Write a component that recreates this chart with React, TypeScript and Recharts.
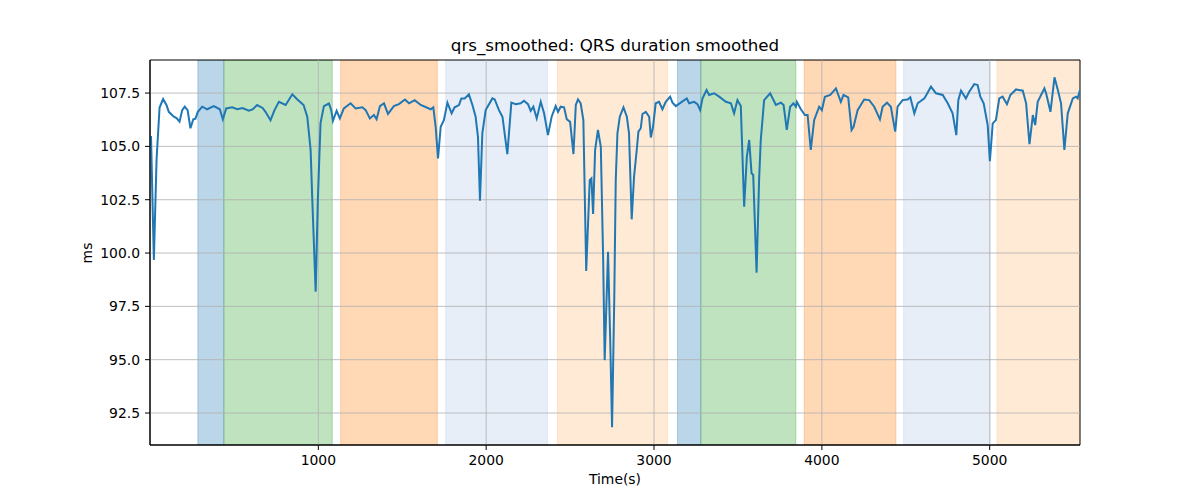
import React from "react";
import {
  ComposedChart,
  Line,
  XAxis,
  YAxis,
  ReferenceArea,
  ReferenceLine,
} from "recharts";

// time stamps (s) and smoothed QRS duration (ms)
const times = [
  3, 20, 36, 54, 75, 95, 109, 139, 155, 173, 189, 204, 221, 238, 255, 268, 282,
  308, 338, 377, 413, 431, 451, 487, 517, 548, 586, 608, 635, 668, 686, 715, 739,
  765, 805, 845, 875, 912, 934, 954, 964, 975, 984, 997, 1013, 1033, 1063, 1077,
  1087, 1109, 1128, 1152, 1192, 1222, 1262, 1282, 1307, 1331, 1347, 1367, 1391,
  1415, 1450, 1480, 1516, 1540, 1574, 1610, 1669, 1685, 1699, 1713, 1729, 1748,
  1769, 1794, 1812, 1838, 1852, 1872, 1897, 1918, 1937, 1951, 1963, 1977, 1997,
  2037, 2051, 2076, 2097, 2126, 2150, 2176, 2206, 2225, 2249, 2265, 2281, 2301,
  2325, 2345, 2368, 2390, 2414, 2428, 2444, 2464, 2480, 2500, 2520, 2534, 2547,
  2563, 2579, 2596, 2617, 2627, 2637, 2649, 2666, 2683, 2697, 2706, 2726, 2739,
  2750, 2763, 2772, 2782, 2796, 2818, 2838, 2851, 2867, 2881, 2897, 2907, 2921,
  2931, 2951, 2971, 2981, 2994, 3010, 3030, 3050, 3070, 3096, 3110, 3130, 3159,
  3195, 3209, 3239, 3259, 3275, 3289, 3313, 3328, 3358, 3388, 3428, 3458, 3477,
  3497, 3517, 3537, 3553, 3567, 3581, 3591, 3611, 3626, 3636, 3656, 3692, 3726,
  3756, 3772, 3791, 3811, 3831, 3845, 3851, 3875, 3899, 3915, 3934, 3954, 3984,
  4000, 4018, 4050, 4084, 4113, 4129, 4157, 4177, 4189, 4213, 4252, 4282, 4312,
  4346, 4362, 4388, 4411, 4437, 4451, 4481, 4511, 4527, 4551, 4571, 4611, 4650,
  4680, 4720, 4750, 4779, 4801, 4813, 4829, 4858, 4878, 4908, 4928, 4944, 4964,
  4988, 5001, 5018, 5037, 5057, 5077, 5103, 5123, 5157, 5197, 5217, 5237, 5257,
  5271, 5286, 5326, 5336, 5362, 5386, 5406, 5425, 5445, 5465, 5495, 5514, 5524,
  5538,
];

const qrs = [
  105.48, 99.67, 104.36, 106.82, 107.22, 106.94, 106.62, 106.39, 106.33, 106.16,
  106.7, 106.86, 106.7, 105.85, 106.27, 106.3, 106.62, 106.86, 106.74, 106.89,
  106.74, 106.27, 106.78, 106.83, 106.74, 106.8, 106.67, 106.73, 106.94, 106.8,
  106.61, 106.23, 106.7, 107.09, 106.94, 107.44, 107.2, 106.94, 106.39, 104.83,
  102.48, 100.14, 98.19, 102.48, 106.09, 106.89, 107.01, 106.7, 106.2, 106.67,
  106.31, 106.78, 107.02, 106.78, 106.83, 106.7, 106.31, 106.47, 106.27, 106.89,
  107.02, 106.52, 106.89, 106.98, 107.2, 107.02, 107.17, 106.94, 106.74, 106.83,
  105.92, 104.44, 105.92, 106.23, 107.05, 106.55, 106.83, 106.94, 107.25, 107.25,
  107.44, 106.94, 106.39, 105.45, 102.45, 105.61, 106.7, 107.25, 107.2, 106.7,
  106.39, 104.64, 107.05, 106.98, 107.02, 107.14, 106.98, 106.67, 106.86, 106.31,
  107.09, 106.55, 105.53, 106.39, 106.89, 106.62, 106.86, 106.83, 106.27, 106.15,
  104.64, 106.94, 107.2, 107.02, 106.23, 99.16, 103.42, 103.5, 101.83, 104.83,
  105.77, 104.98, 99.67, 94.98, 100.06, 95.92, 91.83, 97.8, 103.42, 105.61,
  106.39, 106.83, 106.39, 105.61, 101.58, 103.58, 104.83, 105.69, 105.85, 106.52,
  106.62, 106.39, 105.42, 105.92, 107.02, 107.09, 106.74, 107.09, 107.33, 107.05,
  106.89, 107.05, 107.25, 107.02, 107.09, 106.98, 106.7, 107.25, 107.64, 107.41,
  107.49, 107.33, 107.09, 107.02, 106.55, 107.17, 106.89, 102.17, 104.51, 105.3,
  103.74, 103.66, 99.08, 103.42, 105.3, 107.17, 107.49, 106.94, 107.05, 106.94,
  105.77, 106.86, 107.02, 106.86, 107.09, 106.74, 106.47, 106.47, 104.83, 106.23,
  106.86, 106.7, 107.33, 107.41, 107.72, 107.09, 107.41, 107.3, 105.77, 105.92,
  106.7, 107.2, 107.17, 106.86, 106.27, 106.86, 107.05, 106.86, 105.69, 106.86,
  107.17, 107.2, 107.3, 106.55, 107.02, 107.25, 107.8, 107.49, 107.41, 107.02,
  106.55, 105.53, 107.17, 107.61, 107.25, 107.56, 107.92, 107.88, 107.33, 107.02,
  106.0, 104.31, 106.08, 106.23, 107.25, 107.33, 106.98, 107.41, 107.67, 107.61,
  107.02, 105.1, 106.47, 106.0, 107.09, 107.72, 107.49, 106.62, 108.24, 107.64,
  107.02, 104.83, 106.55, 107.25, 107.33, 107.25, 107.64,
];

// shaded segments [start, end] in seconds, with their colours
const spanStarts = [282, 437, 1133, 1759, 2424, 3140, 3279, 3895, 4487, 5043];
const spanEnds = [437, 1083, 1709, 2365, 3080, 3279, 3845, 4441, 5003, 5538];
const spanColors = [
  "#1f77b4",
  "#2ca02c",
  "#ff7f0e",
  "#aec7e8",
  "#ffbb78",
  "#1f77b4",
  "#2ca02c",
  "#ff7f0e",
  "#aec7e8",
  "#ffbb78",
];

const xTicks = [1000, 2000, 3000, 4000, 5000];
const yTicks = [92.5, 95, 97.5, 100, 102.5, 105, 107.5];

const data = times.map((t, i) => ({ t, v: qrs[i] }));

const FONT = "'DejaVu Sans', sans-serif";
const X_MIN = -3;
const X_MAX = 5538;
const Y_MIN = 91;
const Y_MAX = 109.05;

export default function App() {
  return (
    <div
      style={{
        position: "relative",
        width: 1200,
        height: 500,
        fontFamily: FONT,
        background: "#fff",
      }}
    >
      <style>{`body{margin:0}`}</style>
      <div
        style={{
          position: "absolute",
          top: 37,
          left: 0,
          width: 1230,
          textAlign: "center",
          fontSize: 16.7,
          lineHeight: 1,
          whiteSpace: "nowrap",
        }}
      >
        qrs_smoothed: QRS duration smoothed
      </div>
      <div
        style={{
          position: "absolute",
          left: 88,
          top: 253,
          transform: "translate(-50%, -50%) rotate(-90deg)",
          fontSize: 13.9,
          lineHeight: 1,
        }}
      >
        ms
      </div>
      <div
        style={{
          position: "absolute",
          top: 473,
          left: 0,
          width: 1230,
          textAlign: "center",
          fontSize: 13.9,
          lineHeight: 1,
        }}
      >
        Time(s)
      </div>
      <ComposedChart
        width={1200}
        height={500}
        data={data}
        margin={{ top: 60, right: 120, bottom: 25, left: 90 }}
      >
        <XAxis
          dataKey="t"
          type="number"
          domain={[X_MIN, X_MAX]}
          ticks={xTicks}
          allowDataOverflow
          height={30}
          tickSize={5}
          tickMargin={5}
          tick={{ fill: "#000", fontSize: 13.9, fontFamily: FONT }}
          tickLine={{ stroke: "#000" }}
          axisLine={{ stroke: "#000" }}
        />
        <YAxis
          type="number"
          domain={[Y_MIN, Y_MAX]}
          ticks={yTicks}
          allowDataOverflow
          width={60}
          tickSize={5}
          tickMargin={5}
          tickFormatter={(v: number) => v.toFixed(1)}
          tick={{ fill: "#000", fontSize: 13.9, fontFamily: FONT }}
          tickLine={{ stroke: "#000" }}
          axisLine={{ stroke: "#000" }}
        />
        {spanStarts.map((s, i) => (
          <ReferenceArea
            key={"span" + i}
            x1={s}
            x2={spanEnds[i]}
            y1={Y_MIN}
            y2={Y_MAX}
            fill={spanColors[i]}
            fillOpacity={0.3}
            stroke={spanColors[i]}
            strokeOpacity={0.3}
            ifOverflow="hidden"
          />
        ))}
        {xTicks.map((x) => (
          <ReferenceLine key={"gx" + x} x={x} stroke="#b0b0b0" strokeWidth={0.8} />
        ))}
        {yTicks.map((y) => (
          <ReferenceLine key={"gy" + y} y={y} stroke="#b0b0b0" strokeWidth={0.8} />
        ))}
        <Line
          type="linear"
          dataKey="v"
          stroke="#1f77b4"
          strokeWidth={2}
          dot={false}
          isAnimationActive={false}
        />
        <ReferenceArea
          x1={X_MIN}
          x2={X_MAX}
          y1={Y_MIN}
          y2={Y_MAX}
          fill="none"
          stroke="#000"
          strokeWidth={1}
        />
      </ComposedChart>
    </div>
  );
}
